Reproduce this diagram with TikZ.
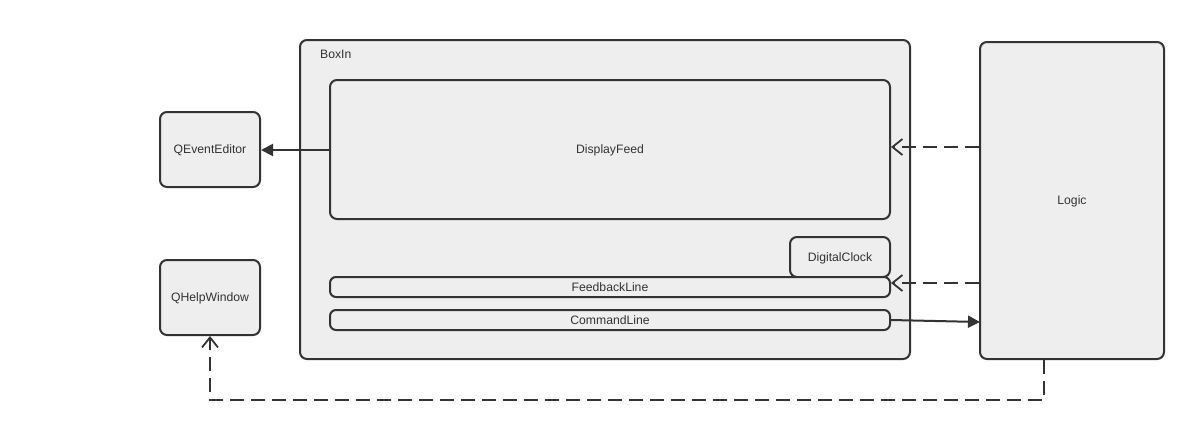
\documentclass[tikz,border=0pt]{standalone}
\usepackage{fontspec}
\setmainfont{Liberation Sans}
\usetikzlibrary{arrows.meta}
\definecolor{boxline}{HTML}{333333}
\definecolor{boxfill}{HTML}{EEEEEE}
\tikzset{
	block/.style={rectangle, rounded corners=7pt, fill=boxfill, draw=boxline, line width=2pt, text=boxline, font=\fontsize{12.2}{14}\selectfont, inner sep=0pt, text height=8pt, text depth=0pt},
	bar/.style={block, rounded corners=6pt},
	solidarrow/.style={-{Triangle[length=12pt,width=12pt]}, line width=2pt, color=boxline},
	dasharrow/.style={-{Straight Barb[length=10pt,width=16pt,line width=1.8pt]}, line width=2pt, color=boxline, dash pattern=on 14pt off 7pt}
}
\begin{document}
\begin{tikzpicture}[x=1pt, y=-1pt]
	\useasboundingbox (0,0) rectangle (1188,424);

	\node[block, minimum width=100pt, minimum height=75pt](qevent) at (210,149.5){QEventEditor};
	\node[block, minimum width=100pt, minimum height=75pt](qhelp) at (210,297.5){QHelpWindow};

	\node[block, minimum width=610pt, minimum height=319pt](boxin) at (605,199.5){};
	\node[text=boxline, font=\fontsize{12.2}{14}\selectfont, anchor=west, inner sep=0pt](boxinlabel) at (320,54){BoxIn};

	\node[block, minimum width=560pt, minimum height=139pt](display) at (610,149.5){DisplayFeed};
	\node[block, minimum width=100pt, minimum height=40pt](clock) at (840,257){DigitalClock};
	\node[bar, minimum width=560pt, minimum height=20pt](feedback) at (610,287){FeedbackLine};
	\node[bar, minimum width=560pt, minimum height=20pt](command) at (610,320){CommandLine};

	\node[block, minimum width=184pt, minimum height=317pt](logic) at (1072,200.5){Logic};

	\coordinate (editorout) at (330,150);
	\coordinate (displayin) at (980,147);
	\coordinate (feedbackin) at (980,283);
	\coordinate (logicin) at (980,322);
	\coordinate (bend) at (1044,400);

	\draw [solidarrow] (display.west |- editorout) -- (qevent.east |- editorout);
	\draw [dasharrow] (logic.west |- displayin) -- (display.east |- displayin);
	\draw [dasharrow] (logic.west |- feedbackin) -- (feedback.east |- feedbackin);
	\draw [solidarrow] (command.east) -- (logicin);
	\draw [dasharrow] (logic.south -| bend) -- (bend) -| (qhelp.south);

\end{tikzpicture}
\end{document}
